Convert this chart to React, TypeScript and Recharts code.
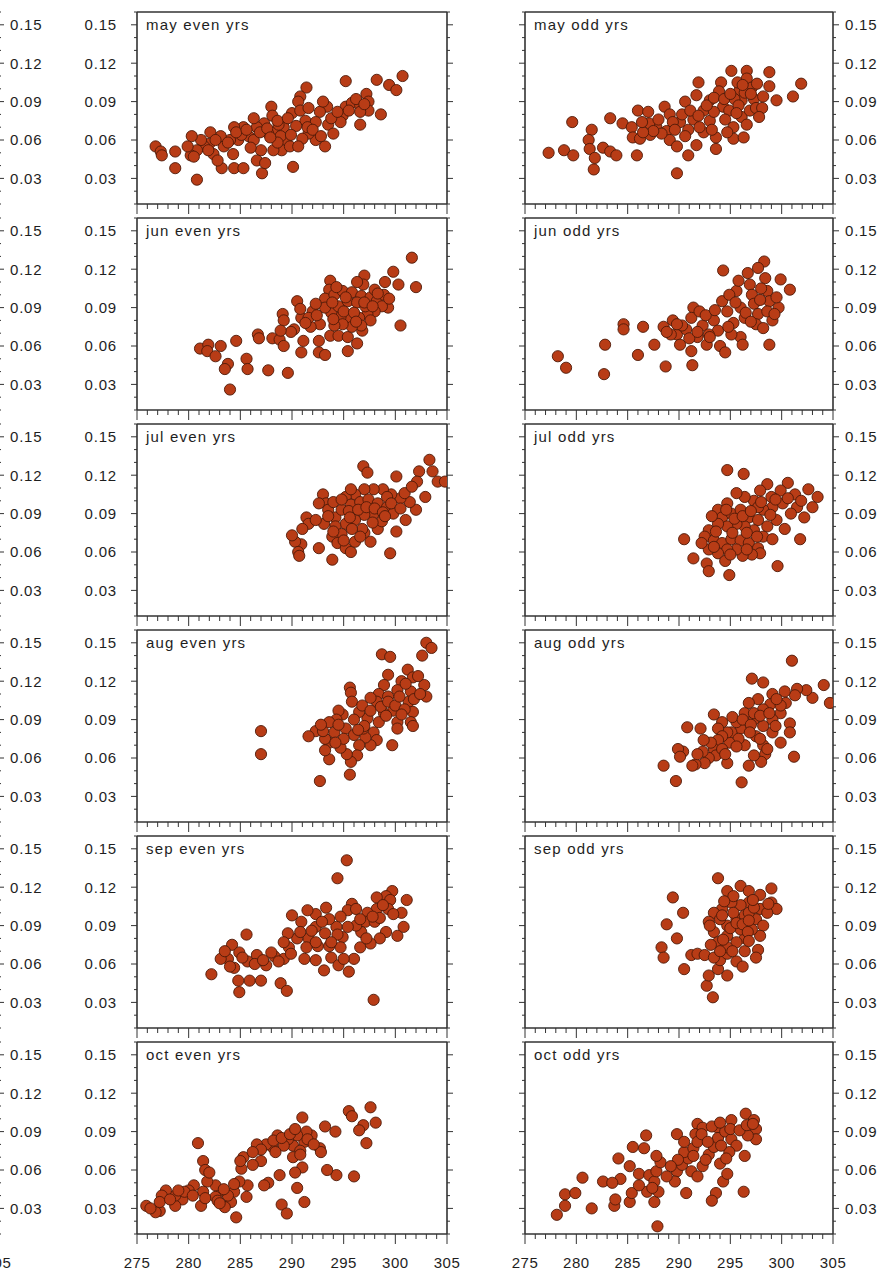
import { ScatterChart, Scatter, XAxis, YAxis } from "recharts";

// tick values
const xTicks = [
  275, 276, 277, 278, 279, 280, 281, 282, 283, 284, 285, 286, 287, 288, 289, 290,
  291, 292, 293, 294, 295, 296, 297, 298, 299, 300, 301, 302, 303, 304, 305,
];
const yTicks = [
  0.01, 0.02, 0.03, 0.04, 0.05, 0.06, 0.07, 0.08, 0.09, 0.1, 0.11, 0.12, 0.13, 0.14, 0.15, 0.16,
];
const months = ["may", "jun", "jul", "aug", "sep", "oct"];
const halves = ["even yrs", "odd yrs"];

type Pt = [number, number];

const mayEven: Pt[] = [
  [300.7, 0.11], [299.4, 0.103], [300.1, 0.099], [298.2, 0.107], [295.2, 0.106], [291.4, 0.101],
  [297.2, 0.096], [298.6, 0.08], [296.6, 0.072], [295.2, 0.086], [295.8, 0.089], [296.6, 0.087],
  [297.4, 0.09], [297.4, 0.083], [296.6, 0.082], [294.9, 0.079], [293.4, 0.086], [292.7, 0.082],
  [293.5, 0.072], [294.0, 0.065], [293.2, 0.055], [292.3, 0.06], [291.6, 0.065], [291.3, 0.075],
  [290.8, 0.094], [290.6, 0.09], [290.0, 0.081], [290.8, 0.083], [291.6, 0.085], [290.1, 0.039],
  [289.2, 0.07], [289.4, 0.06], [289.0, 0.052], [289.8, 0.055], [288.2, 0.052], [288.0, 0.086],
  [288.1, 0.079], [287.3, 0.073], [286.6, 0.07], [286.3, 0.077], [285.8, 0.063], [286.3, 0.06],
  [287.0, 0.052], [286.6, 0.044], [287.1, 0.034], [287.4, 0.042], [285.3, 0.07], [284.4, 0.07],
  [284.8, 0.06], [284.0, 0.06], [284.4, 0.038], [285.3, 0.038], [283.4, 0.055], [283.1, 0.063],
  [282.1, 0.066], [282.0, 0.057], [282.4, 0.049], [283.2, 0.038], [281.5, 0.055], [281.2, 0.06],
  [280.8, 0.052], [280.3, 0.063], [280.2, 0.048], [280.5, 0.047], [280.8, 0.029], [278.7, 0.051],
  [278.7, 0.038], [276.8, 0.055], [277.3, 0.051], [277.4, 0.048], [288.2, 0.066], [288.7, 0.072],
  [287.7, 0.065], [288.9, 0.063], [285.1, 0.064], [282.8, 0.044], [284.3, 0.049], [293.0, 0.09],
  [294.7, 0.074], [292.3, 0.074], [291.5, 0.07],
  [283.8, 0.058], [284.6, 0.066], [285.6, 0.068], [286.9, 0.066], [287.6, 0.069], [288.6, 0.075],
  [289.6, 0.077], [290.4, 0.071], [291.0, 0.061], [292.0, 0.068], [292.8, 0.063], [293.8, 0.077],
  [294.4, 0.082], [295.5, 0.083], [296.2, 0.092], [297.0, 0.088], [282.6, 0.06], [281.9, 0.052],
  [279.9, 0.055], [286.0, 0.054], [288.6, 0.058], [290.6, 0.055], [289.9, 0.064], [287.9, 0.062],
];

const mayOdd: Pt[] = [
  [277.3, 0.05], [278.8, 0.052], [279.7, 0.048], [279.6, 0.074], [281.5, 0.068], [281.2, 0.06],
  [281.3, 0.053], [281.8, 0.046], [281.7, 0.037], [282.6, 0.054], [283.3, 0.051], [283.9, 0.048],
  [283.3, 0.077], [284.5, 0.073], [285.4, 0.07], [285.9, 0.048], [286.0, 0.083], [287.0, 0.082],
  [285.5, 0.062], [286.2, 0.061], [287.2, 0.064], [287.8, 0.07], [287.1, 0.073], [288.6, 0.086],
  [289.1, 0.08], [288.8, 0.067], [289.1, 0.06], [289.8, 0.055], [289.8, 0.034], [290.6, 0.09],
  [290.1, 0.074], [290.9, 0.068], [290.9, 0.048], [291.7, 0.056], [291.9, 0.105], [291.7, 0.095],
  [292.4, 0.083], [292.4, 0.066], [293.0, 0.091], [293.0, 0.075], [293.6, 0.053], [293.6, 0.062],
  [294.1, 0.105], [293.9, 0.098], [294.3, 0.086], [293.4, 0.082], [294.9, 0.083], [295.1, 0.114],
  [295.3, 0.07], [295.3, 0.061], [295.9, 0.099], [296.1, 0.091], [296.1, 0.078], [296.3, 0.062],
  [296.6, 0.114], [296.6, 0.108], [297.1, 0.101], [297.3, 0.092], [296.9, 0.083], [296.6, 0.072],
  [297.5, 0.085], [298.1, 0.085], [298.8, 0.113], [298.8, 0.102], [299.5, 0.091], [301.1, 0.094],
  [301.9, 0.104], [295.4, 0.092], [294.7, 0.066], [291.4, 0.076], [289.4, 0.074], [288.3, 0.065],
  [287.5, 0.067], [286.5, 0.066], [297.8, 0.078], [295.7, 0.105],
  [290.3, 0.08], [291.1, 0.083], [291.9, 0.079], [292.7, 0.087], [293.4, 0.093], [294.4, 0.092],
  [295.0, 0.096], [295.8, 0.087], [296.4, 0.097], [297.0, 0.096], [297.6, 0.104], [296.2, 0.103],
  [295.6, 0.081], [294.5, 0.076], [293.2, 0.068], [292.0, 0.07], [290.6, 0.063], [288.0, 0.076],
  [286.4, 0.074], [289.6, 0.068], [298.2, 0.094],
];

const junEven: Pt[] = [
  [301.6, 0.129], [302.0, 0.106], [299.8, 0.118], [300.3, 0.108], [299.0, 0.11], [297.0, 0.115],
  [296.9, 0.108], [293.7, 0.111], [293.6, 0.104], [290.5, 0.095], [300.5, 0.076], [299.3, 0.09],
  [289.1, 0.085], [289.2, 0.08], [290.9, 0.082], [292.0, 0.087], [290.2, 0.073], [291.1, 0.064],
  [292.6, 0.064], [293.7, 0.068], [294.5, 0.068], [295.4, 0.067], [296.3, 0.062], [295.4, 0.056],
  [296.8, 0.072], [290.9, 0.055], [292.6, 0.055], [293.2, 0.053], [286.7, 0.069], [286.8, 0.066],
  [288.1, 0.066], [288.8, 0.065], [289.2, 0.06], [284.6, 0.064], [281.1, 0.058], [281.9, 0.061],
  [281.8, 0.056], [282.6, 0.052], [283.1, 0.06], [283.8, 0.046], [283.5, 0.042], [285.6, 0.05],
  [285.7, 0.042], [287.7, 0.041], [289.6, 0.039], [284.0, 0.026], [293.2, 0.097], [294.1, 0.1],
  [294.9, 0.103], [295.8, 0.102], [296.7, 0.099], [297.6, 0.098], [298.2, 0.095], [298.7, 0.091],
  [298.0, 0.087], [297.3, 0.085], [296.5, 0.082], [295.6, 0.081], [294.7, 0.083], [293.8, 0.086],
  [293.2, 0.09], [294.5, 0.091], [295.4, 0.095], [296.3, 0.094], [297.1, 0.091], [297.6, 0.08],
  [296.7, 0.076], [295.8, 0.075], [294.9, 0.077], [294.1, 0.076], [292.7, 0.077], [291.8, 0.075],
  [294.3, 0.106], [296.3, 0.11], [298.0, 0.104], [298.9, 0.1], [292.3, 0.093], [291.6, 0.082],
  [290.8, 0.089],
  [293.9, 0.094], [295.0, 0.087], [296.0, 0.086], [297.0, 0.094], [297.8, 0.091], [295.2, 0.098],
  [294.0, 0.081], [296.2, 0.079], [292.4, 0.084], [291.3, 0.078], [289.9, 0.071], [288.9, 0.072],
  [299.4, 0.097], [298.3, 0.101],
];

const junOdd: Pt[] = [
  [278.2, 0.052], [279.0, 0.043], [282.8, 0.061], [282.7, 0.038], [284.6, 0.077], [284.6, 0.073],
  [286.5, 0.075], [286.0, 0.053], [287.6, 0.061], [288.7, 0.044], [288.5, 0.075], [289.4, 0.08],
  [289.8, 0.069], [290.1, 0.061], [290.7, 0.073], [291.2, 0.056], [291.3, 0.045], [291.4, 0.09],
  [291.2, 0.082], [291.8, 0.067], [292.3, 0.076], [292.7, 0.061], [293.4, 0.08], [293.8, 0.072],
  [294.0, 0.06], [294.5, 0.055], [294.3, 0.119], [294.2, 0.095], [294.7, 0.087], [295.3, 0.078],
  [295.6, 0.103], [295.8, 0.111], [296.0, 0.09], [296.0, 0.067], [296.2, 0.061], [296.7, 0.117],
  [296.9, 0.108], [297.1, 0.1], [297.3, 0.093], [297.7, 0.085], [297.5, 0.077], [298.3, 0.126],
  [298.4, 0.113], [298.6, 0.103], [298.8, 0.095], [298.6, 0.087], [299.1, 0.08], [298.8, 0.061],
  [299.7, 0.09], [299.9, 0.112], [300.8, 0.104], [299.5, 0.098], [298.2, 0.074], [292.0, 0.087],
  [292.9, 0.069], [289.2, 0.069], [295.1, 0.069], [296.4, 0.082], [294.9, 0.1], [297.7, 0.121],
  [290.3, 0.076], [291.0, 0.066], [291.8, 0.071], [292.6, 0.084], [293.0, 0.067], [293.5, 0.088],
  [294.8, 0.075], [295.5, 0.094], [296.5, 0.086], [297.0, 0.079], [297.9, 0.096], [298.0, 0.105],
  [299.3, 0.085], [289.8, 0.077], [288.8, 0.071],
];

const julEven: Pt[] = [
  [303.3, 0.132], [303.6, 0.123], [304.1, 0.115], [304.8, 0.115], [302.3, 0.123], [302.1, 0.115],
  [300.1, 0.119], [296.9, 0.127], [297.3, 0.122], [302.9, 0.103], [302.0, 0.093], [301.4, 0.099],
  [300.5, 0.102], [301.0, 0.085], [299.6, 0.105], [298.8, 0.109], [297.9, 0.109], [297.0, 0.109],
  [296.1, 0.105], [295.2, 0.103], [293.0, 0.105], [293.3, 0.098], [293.5, 0.093], [293.1, 0.082],
  [294.2, 0.087], [294.8, 0.093], [295.7, 0.097], [296.6, 0.099], [297.4, 0.101], [298.3, 0.098],
  [299.2, 0.095], [299.8, 0.09], [297.9, 0.09], [297.0, 0.089], [296.1, 0.085], [295.2, 0.082],
  [294.2, 0.08], [294.8, 0.074], [293.9, 0.072], [294.4, 0.067], [295.2, 0.063], [295.7, 0.06],
  [296.1, 0.068], [297.0, 0.075], [297.6, 0.068], [298.3, 0.078], [298.7, 0.084], [300.1, 0.076],
  [299.5, 0.059], [293.9, 0.054], [292.6, 0.063], [290.9, 0.066], [290.3, 0.068], [290.0, 0.073],
  [291.4, 0.087], [291.6, 0.082], [290.6, 0.06], [290.7, 0.057], [292.6, 0.098], [295.7, 0.109],
  [296.8, 0.078], [295.0, 0.069], [299.2, 0.103],
  [294.0, 0.099], [294.8, 0.101], [295.5, 0.092], [296.4, 0.093], [297.2, 0.095], [298.0, 0.094],
  [298.8, 0.091], [299.6, 0.098], [300.9, 0.106], [295.8, 0.078], [296.6, 0.072], [294.0, 0.076],
  [293.5, 0.088], [292.3, 0.085], [291.0, 0.078], [295.6, 0.087], [297.8, 0.083], [299.0, 0.088],
  [300.5, 0.094], [301.6, 0.111],
];

const julOdd: Pt[] = [
  [294.7, 0.124], [296.3, 0.121], [290.5, 0.07], [291.4, 0.055], [292.7, 0.051], [292.9, 0.045],
  [294.9, 0.042], [299.6, 0.049], [301.8, 0.07], [302.6, 0.109], [303.5, 0.103], [303.0, 0.095],
  [301.3, 0.105], [301.5, 0.095], [302.2, 0.087], [300.6, 0.114], [299.9, 0.108], [298.6, 0.113],
  [297.9, 0.108], [299.0, 0.103], [300.1, 0.098], [300.3, 0.078], [299.5, 0.085], [299.1, 0.095],
  [298.2, 0.093], [297.3, 0.1], [296.4, 0.103], [295.6, 0.106], [294.7, 0.098], [293.8, 0.093],
  [294.2, 0.087], [295.1, 0.09], [296.0, 0.093], [296.8, 0.087], [297.7, 0.085], [298.6, 0.08],
  [298.2, 0.072], [297.3, 0.077], [296.4, 0.08], [295.6, 0.082], [294.7, 0.08], [293.8, 0.082],
  [292.9, 0.077], [292.5, 0.072], [293.4, 0.069], [294.2, 0.067], [295.1, 0.07], [296.0, 0.069],
  [296.8, 0.067], [297.7, 0.063], [297.9, 0.059], [297.1, 0.058], [296.2, 0.057], [295.6, 0.062],
  [294.7, 0.062], [293.8, 0.059], [292.9, 0.062], [294.5, 0.053], [299.1, 0.07], [300.9, 0.09],
  [297.7, 0.095],
  [293.2, 0.088], [293.6, 0.076], [294.6, 0.093], [295.4, 0.086], [296.2, 0.088], [297.0, 0.092],
  [298.0, 0.099], [299.4, 0.101], [300.6, 0.102], [301.9, 0.1], [295.2, 0.075], [296.6, 0.075],
  [297.6, 0.072], [298.9, 0.089], [293.4, 0.064], [295.0, 0.058], [296.6, 0.062], [292.2, 0.067],
];

const augEven: Pt[] = [
  [303.0, 0.15], [303.5, 0.146], [302.6, 0.14], [298.7, 0.141], [299.5, 0.139], [301.2, 0.129],
  [301.7, 0.123], [302.8, 0.117], [303.0, 0.108], [301.5, 0.112], [301.3, 0.104], [300.6, 0.12],
  [300.2, 0.113], [299.3, 0.125], [298.9, 0.117], [298.4, 0.11], [298.2, 0.104], [301.7, 0.096],
  [301.5, 0.088], [301.7, 0.085], [300.2, 0.088], [300.2, 0.083], [299.8, 0.097], [298.9, 0.095],
  [298.4, 0.088], [297.9, 0.08], [298.2, 0.074], [299.7, 0.07], [297.6, 0.07], [297.1, 0.076],
  [296.9, 0.083], [297.3, 0.091], [296.5, 0.096], [295.6, 0.115], [295.7, 0.111], [295.8, 0.104],
  [294.9, 0.094], [294.5, 0.097], [294.3, 0.09], [293.6, 0.088], [294.1, 0.08], [295.2, 0.083],
  [296.0, 0.078], [296.5, 0.07], [296.3, 0.062], [295.7, 0.057], [295.3, 0.063], [294.7, 0.068],
  [293.6, 0.072], [293.2, 0.075], [293.6, 0.059], [292.3, 0.081], [291.6, 0.077], [292.7, 0.042],
  [295.6, 0.047], [287.0, 0.081], [287.0, 0.063], [297.6, 0.107], [299.3, 0.108], [294.5, 0.086],
  [293.2, 0.066],
  [296.0, 0.09], [296.8, 0.101], [297.6, 0.097], [298.6, 0.1], [299.3, 0.104], [300.0, 0.101],
  [300.9, 0.098], [301.8, 0.106], [302.4, 0.11], [300.4, 0.108], [297.0, 0.085], [296.4, 0.082],
  [295.0, 0.075], [294.2, 0.072], [293.0, 0.081], [292.8, 0.086], [299.1, 0.093], [300.6, 0.094],
  [302.2, 0.124], [301.0, 0.118],
];

const augOdd: Pt[] = [
  [301.0, 0.136], [297.1, 0.122], [298.2, 0.119], [304.1, 0.117], [304.7, 0.103], [303.0, 0.107],
  [302.4, 0.113], [301.5, 0.114], [301.3, 0.109], [300.4, 0.103], [299.9, 0.095], [300.8, 0.087],
  [300.8, 0.08], [299.9, 0.072], [301.2, 0.061], [299.1, 0.11], [298.9, 0.102], [299.1, 0.09],
  [299.1, 0.08], [298.2, 0.098], [297.7, 0.106], [296.8, 0.103], [296.4, 0.095], [297.3, 0.09],
  [298.2, 0.085], [297.5, 0.077], [298.2, 0.07], [298.4, 0.063], [298.0, 0.057], [296.8, 0.054],
  [297.3, 0.062], [296.4, 0.07], [296.0, 0.083], [295.6, 0.088], [295.1, 0.08], [295.8, 0.075],
  [294.9, 0.072], [294.7, 0.08], [294.2, 0.088], [293.4, 0.094], [293.8, 0.083], [294.2, 0.077],
  [293.8, 0.074], [293.4, 0.067], [293.6, 0.062], [294.2, 0.067], [294.7, 0.056], [292.9, 0.06],
  [292.3, 0.065], [292.5, 0.056], [291.6, 0.055], [292.1, 0.083], [290.8, 0.084], [291.3, 0.054],
  [290.4, 0.065], [289.9, 0.067], [290.1, 0.061], [288.5, 0.054], [289.7, 0.042], [296.1, 0.041],
  [299.9, 0.101], [297.3, 0.095],
  [295.2, 0.092], [296.2, 0.09], [297.0, 0.086], [297.9, 0.093], [298.8, 0.095], [299.5, 0.106],
  [300.3, 0.112], [296.9, 0.08], [295.6, 0.069], [294.5, 0.063], [293.1, 0.072], [292.4, 0.074],
  [291.8, 0.063], [297.9, 0.075], [298.6, 0.067], [299.4, 0.085],
];

const sepEven: Pt[] = [
  [295.3, 0.141], [294.4, 0.127], [299.7, 0.117], [299.1, 0.113], [298.2, 0.112], [299.5, 0.11],
  [301.1, 0.11], [300.6, 0.1], [300.8, 0.089], [299.3, 0.103], [298.2, 0.103], [297.3, 0.1],
  [297.1, 0.093], [298.0, 0.093], [299.1, 0.085], [298.5, 0.08], [297.6, 0.076], [296.7, 0.085],
  [296.2, 0.09], [295.8, 0.107], [295.4, 0.102], [294.7, 0.097], [295.4, 0.089], [294.9, 0.081],
  [294.3, 0.089], [293.6, 0.095], [293.3, 0.104], [293.2, 0.084], [292.3, 0.089], [292.3, 0.099],
  [291.5, 0.102], [291.6, 0.08], [291.2, 0.064], [292.3, 0.063], [293.1, 0.055], [293.8, 0.065],
  [294.5, 0.059], [295.5, 0.054], [296.0, 0.064], [294.7, 0.073], [293.6, 0.074], [292.5, 0.074],
  [291.4, 0.073], [290.5, 0.08], [290.9, 0.093], [290.0, 0.098], [289.6, 0.084], [289.7, 0.073],
  [289.2, 0.064], [288.3, 0.066], [288.0, 0.069], [287.5, 0.059], [286.6, 0.067], [285.6, 0.083],
  [285.7, 0.062], [285.9, 0.047], [287.0, 0.047], [284.8, 0.047], [284.9, 0.038], [284.4, 0.057],
  [283.8, 0.064], [284.2, 0.075], [284.9, 0.069], [283.1, 0.064], [282.2, 0.052], [288.9, 0.045],
  [289.5, 0.039], [297.9, 0.032], [292.3, 0.077], [300.2, 0.082], [296.2, 0.103], [298.5, 0.096],
  [296.6, 0.095], [297.8, 0.097], [298.8, 0.106], [299.8, 0.099], [294.4, 0.083], [293.8, 0.077],
  [292.9, 0.093], [291.9, 0.086], [290.8, 0.085], [289.2, 0.077], [288.7, 0.062], [286.4, 0.06],
  [285.2, 0.065], [284.0, 0.058], [283.5, 0.07], [287.2, 0.063], [289.9, 0.068], [295.0, 0.064],
  [296.6, 0.073], [297.2, 0.08],
];

const sepOdd: Pt[] = [
  [293.8, 0.127], [289.4, 0.112], [288.8, 0.091], [290.4, 0.1], [288.3, 0.073], [288.5, 0.065],
  [289.8, 0.08], [290.5, 0.056], [291.2, 0.067], [291.8, 0.068], [292.5, 0.067], [292.7, 0.043],
  [293.3, 0.034], [292.9, 0.051], [293.8, 0.056], [294.7, 0.051], [294.0, 0.063], [294.7, 0.068],
  [295.6, 0.062], [296.2, 0.058], [296.4, 0.07], [297.7, 0.071], [297.5, 0.065], [294.7, 0.117],
  [296.0, 0.121], [296.8, 0.117], [299.0, 0.119], [299.0, 0.108], [299.5, 0.103], [297.9, 0.114],
  [297.9, 0.103], [297.5, 0.095], [298.2, 0.09], [297.9, 0.082], [296.8, 0.108], [296.0, 0.106],
  [295.1, 0.108], [294.2, 0.103], [293.4, 0.1], [292.9, 0.093], [293.4, 0.085], [293.8, 0.077],
  [294.7, 0.082], [294.7, 0.09], [295.6, 0.095], [296.4, 0.098], [297.1, 0.087], [296.4, 0.08],
  [295.6, 0.077], [294.7, 0.073], [296.0, 0.087], [295.3, 0.1], [294.0, 0.095], [296.8, 0.1],
  [293.4, 0.065],
  [294.3, 0.079], [295.0, 0.088], [295.6, 0.092], [296.2, 0.091], [296.8, 0.094], [297.3, 0.104],
  [298.6, 0.1], [298.7, 0.107], [294.2, 0.098], [293.0, 0.09], [295.3, 0.113], [294.4, 0.109],
  [296.7, 0.085], [295.2, 0.07], [294.0, 0.07], [296.8, 0.078], [293.1, 0.075], [297.2, 0.11],
];

const octEven: Pt[] = [
  [297.6, 0.109], [295.5, 0.106], [295.8, 0.102], [298.1, 0.097], [296.9, 0.095], [296.5, 0.091],
  [297.2, 0.081], [293.2, 0.094], [294.2, 0.09], [291.0, 0.101], [296.0, 0.055], [294.3, 0.056],
  [293.4, 0.06], [292.7, 0.077], [292.8, 0.074], [291.9, 0.087], [291.4, 0.09], [291.2, 0.082],
  [290.5, 0.087], [290.1, 0.079], [290.8, 0.075], [290.1, 0.07], [291.0, 0.062], [290.3, 0.058],
  [290.5, 0.046], [291.2, 0.035], [289.0, 0.033], [289.5, 0.026], [289.6, 0.084], [289.2, 0.079],
  [288.6, 0.087], [288.1, 0.078], [287.5, 0.08], [288.8, 0.056], [287.7, 0.05], [287.3, 0.048],
  [286.6, 0.08], [287.0, 0.067], [286.2, 0.064], [285.3, 0.07], [285.1, 0.061], [285.7, 0.048],
  [285.6, 0.039], [284.9, 0.051], [284.4, 0.043], [284.6, 0.023], [284.1, 0.035], [283.5, 0.031],
  [283.8, 0.04], [283.1, 0.044], [282.6, 0.048], [281.8, 0.051], [281.4, 0.043], [281.2, 0.032],
  [280.9, 0.081], [281.4, 0.067], [281.6, 0.06], [282.0, 0.058], [280.5, 0.048], [280.0, 0.044],
  [279.4, 0.037], [278.7, 0.032], [278.7, 0.04], [277.8, 0.044], [277.4, 0.04], [277.2, 0.028],
  [276.8, 0.027], [275.9, 0.032], [277.2, 0.035], [279.6, 0.043], [282.6, 0.039],
  [288.2, 0.083], [289.0, 0.085], [289.8, 0.088], [290.3, 0.092], [291.5, 0.084], [292.1, 0.08],
  [290.8, 0.072], [288.4, 0.074], [287.0, 0.076], [286.2, 0.074], [285.0, 0.067], [283.4, 0.045],
  [282.8, 0.036], [281.6, 0.038], [280.4, 0.04], [279.0, 0.044], [278.2, 0.037], [276.3, 0.03],
  [284.4, 0.049], [283.0, 0.034],
];

const octOdd: Pt[] = [
  [296.5, 0.104], [297.3, 0.099], [297.5, 0.092], [297.5, 0.084], [296.7, 0.087], [295.1, 0.099],
  [293.8, 0.093], [291.8, 0.096], [291.6, 0.088], [289.8, 0.088], [286.8, 0.087], [285.5, 0.078],
  [286.6, 0.077], [284.1, 0.069], [285.2, 0.063], [286.1, 0.057], [284.3, 0.053], [282.6, 0.051],
  [283.5, 0.05], [280.6, 0.054], [278.9, 0.041], [279.9, 0.042], [278.9, 0.032], [278.1, 0.025],
  [281.5, 0.03], [283.7, 0.032], [283.8, 0.037], [285.2, 0.035], [285.4, 0.042], [286.9, 0.043],
  [287.6, 0.035], [287.9, 0.016], [287.1, 0.056], [287.6, 0.051], [288.0, 0.043], [287.8, 0.059],
  [288.2, 0.066], [287.8, 0.071], [289.8, 0.059], [289.6, 0.051], [290.7, 0.042], [290.3, 0.064],
  [290.9, 0.069], [290.5, 0.074], [291.4, 0.077], [291.8, 0.082], [291.2, 0.059], [292.3, 0.063],
  [291.8, 0.055], [292.9, 0.072], [293.4, 0.078], [293.8, 0.085], [294.0, 0.065], [294.3, 0.051],
  [293.6, 0.042], [293.2, 0.036], [294.7, 0.057], [294.5, 0.09], [295.1, 0.084], [295.6, 0.079],
  [294.9, 0.074], [296.4, 0.071], [296.3, 0.043], [292.3, 0.093], [290.5, 0.082], [289.9, 0.068],
  [292.2, 0.088], [292.8, 0.082], [293.2, 0.094], [294.0, 0.097], [295.0, 0.092], [295.9, 0.091],
  [296.6, 0.095], [297.2, 0.096], [294.1, 0.079], [292.6, 0.068], [291.4, 0.071], [289.2, 0.063],
  [288.8, 0.055], [287.4, 0.046], [286.1, 0.048], [294.6, 0.069],
];

const evenSeries = [mayEven, junEven, julEven, augEven, sepEven, octEven];
const oddSeries = [mayOdd, junOdd, julOdd, augOdd, sepOdd, octOdd];

const INK = "#1e1e1e";
const FRAME = "#333";
const DOT_FILL = "#b83c16";
const DOT_EDGE = "#4e1a08";
const FONT = '"Liberation Sans", Arial, Helvetica, sans-serif';

// layout
const ROW_TOP = 12;
const ROW_STEP = 206;
const PLOT_H = 192;
const AX_T = 14;
const AX_B = 40;
const AX_L = 64;
const AX_R = 64;

const COLS = [
  { left: -310, width: 308 }, // cut-off column at the page edge
  { left: 137, width: 310 },
  { left: 525, width: 308 },
];

function XTick(props: any) {
  const { x, y, payload, dir, label } = props;
  const v = payload.value;
  const major = v % 5 === 0;
  const len = major ? 10 : 5;
  return (
    <g>
      <line x1={x} x2={x} y1={y} y2={y + dir * len} stroke={FRAME} strokeWidth={1} />
      {label && major ? (
        <text x={x} y={y + 34} textAnchor="middle" fontSize={15} fill={INK} fontFamily={FONT} letterSpacing={0.5}>
          {v}
        </text>
      ) : null}
    </g>
  );
}

function YTick(props: any) {
  const { x, y, payload, dir, label } = props;
  const v = payload.value;
  const major = Math.round(v * 100) % 3 === 0;
  const len = major ? 6 : 3;
  return (
    <g>
      <line x1={x} x2={x + dir * len} y1={y} y2={y} stroke={FRAME} strokeWidth={1} />
      {label && major ? (
        <text
          x={dir < 0 ? x - 20 : x + 12}
          y={y}
          dy="0.36em"
          textAnchor={dir < 0 ? "end" : "start"}
          fontSize={15}
          fill={INK}
          fontFamily={FONT}
          letterSpacing={0.8}
        >
          {v.toFixed(2)}
        </text>
      ) : null}
    </g>
  );
}

function Dot(props: any) {
  if (props.cx == null || props.cy == null) return <g />;
  return <circle cx={props.cx} cy={props.cy} r={5.6} fill={DOT_FILL} stroke={DOT_EDGE} strokeWidth={0.9} />;
}

const frameLine = { stroke: FRAME, strokeWidth: 1.6 };

function Panel(props: {
  left: number;
  top: number;
  width: number;
  title: string;
  points: Pt[];
  labelsLeft: boolean;
  labelsRight: boolean;
  labelsBottom: boolean;
}) {
  const { left, top, width, title, points, labelsLeft, labelsRight, labelsBottom } = props;
  const data = points.map(([t, v]) => ({ t, v }));
  return (
    <div style={{ position: "absolute", left: left - AX_L, top: top - AX_T }}>
      <ScatterChart
        width={width + AX_L + AX_R}
        height={PLOT_H + AX_T + AX_B}
        margin={{ top: 0, right: 0, bottom: 0, left: 0 }}
      >
        <XAxis
          xAxisId="b"
          dataKey="t"
          type="number"
          domain={[275, 305]}
          ticks={xTicks}
          interval={0}
          height={AX_B}
          tickSize={0}
          tickMargin={0}
          tickLine={false}
          axisLine={frameLine}
          allowDataOverflow
          tick={(p: any) => <XTick {...p} dir={1} label={labelsBottom} />}
        />
        <XAxis
          xAxisId="t"
          orientation="top"
          type="number"
          domain={[275, 305]}
          ticks={xTicks}
          interval={0}
          height={AX_T}
          tickSize={0}
          tickMargin={0}
          tickLine={false}
          axisLine={frameLine}
          allowDataOverflow
          tick={(p: any) => <XTick {...p} dir={-1} label={false} />}
        />
        <YAxis
          yAxisId="l"
          dataKey="v"
          type="number"
          domain={[0.01, 0.16]}
          ticks={yTicks}
          interval={0}
          width={AX_L}
          tickSize={0}
          tickMargin={0}
          tickLine={false}
          axisLine={frameLine}
          allowDataOverflow
          tick={(p: any) => <YTick {...p} dir={-1} label={labelsLeft} />}
        />
        <YAxis
          yAxisId="r"
          orientation="right"
          type="number"
          domain={[0.01, 0.16]}
          ticks={yTicks}
          interval={0}
          width={AX_R}
          tickSize={0}
          tickMargin={0}
          tickLine={false}
          axisLine={frameLine}
          allowDataOverflow
          tick={(p: any) => <YTick {...p} dir={1} label={labelsRight} />}
        />
        <Scatter xAxisId="b" yAxisId="l" data={data} isAnimationActive={false} shape={Dot} />
      </ScatterChart>
      <div
        style={{
          position: "absolute",
          left: AX_L + 9,
          top: AX_T + 5,
          fontFamily: FONT,
          fontSize: 15,
          lineHeight: "15px",
          letterSpacing: 1.2,
          color: INK,
          whiteSpace: "nowrap",
        }}
      >
        {title}
      </div>
    </div>
  );
}

export default function App() {
  return (
    <div
      style={{
        position: "absolute",
        left: 0,
        top: 0,
        width: 892,
        height: 1276,
        background: "#fff",
        overflow: "hidden",
      }}
    >
      {/* neighbouring column, only its right axis shows */}
      <div style={{ position: "absolute", left: 0, top: 0, width: 47, height: 1276, overflow: "hidden" }}>
        {months.map((m, i) => (
          <Panel
            key={"x" + m}
            left={COLS[0].left}
            top={ROW_TOP + i * ROW_STEP}
            width={COLS[0].width}
            title=""
            points={[]}
            labelsLeft={false}
            labelsRight
            labelsBottom={i === months.length - 1}
          />
        ))}
      </div>
      {months.map((m, i) => (
        <Panel
          key={"e" + m}
          left={COLS[1].left}
          top={ROW_TOP + i * ROW_STEP}
          width={COLS[1].width}
          title={`${m} ${halves[0]}`}
          points={evenSeries[i]}
          labelsLeft
          labelsRight={false}
          labelsBottom={i === months.length - 1}
        />
      ))}
      {months.map((m, i) => (
        <Panel
          key={"o" + m}
          left={COLS[2].left}
          top={ROW_TOP + i * ROW_STEP}
          width={COLS[2].width}
          title={`${m} ${halves[1]}`}
          points={oddSeries[i]}
          labelsLeft={false}
          labelsRight
          labelsBottom={i === months.length - 1}
        />
      ))}
    </div>
  );
}
